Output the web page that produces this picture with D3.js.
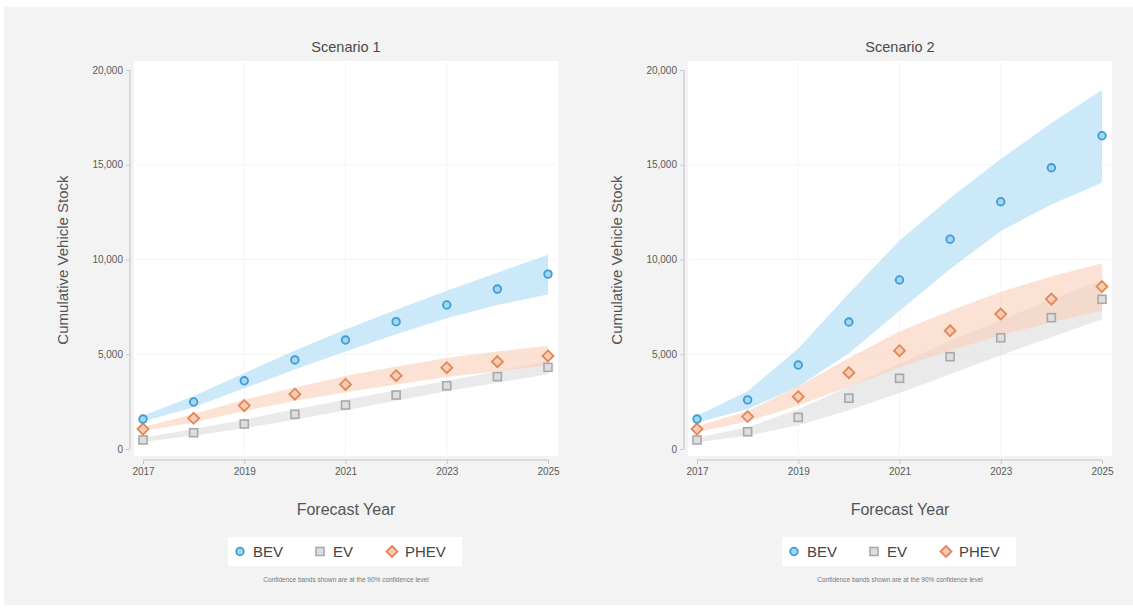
<!DOCTYPE html>
<html>
<head>
<meta charset="utf-8">
<script src="https://cdn.jsdelivr.net/npm/d3@7"></script>
<style>
  body { margin: 0; background: #fff; font-family: "Liberation Sans", Arial, sans-serif; }
  .tick text { fill: #5a5a5a; }
</style>
</head>
<body>
<div id="chart"></div>
<script>
// forecast years
const years = [2017, 2018, 2019, 2020, 2021, 2022, 2023, 2024, 2025];
const yTicks = [0, 5000, 10000, 15000, 20000];
const xTicks = [2017, 2019, 2021, 2023, 2025];
const seriesNames = ["BEV", "EV", "PHEV"];

// Scenario 1
const s1Bev = [1580, 2480, 3600, 4700, 5750, 6720, 7600, 8440, 9230];
const s1BevHi = [1750, 2800, 4000, 5200, 6300, 7350, 8350, 9300, 10250];
const s1BevLo = [1450, 2200, 3200, 4200, 5150, 6050, 6900, 7600, 8150];
const s1Ev = [475, 860, 1320, 1830, 2320, 2850, 3340, 3820, 4310];
const s1EvHi = [600, 1050, 1550, 2100, 2600, 3100, 3600, 4100, 4650];
const s1EvLo = [380, 700, 1100, 1550, 2050, 2550, 3050, 3500, 3950];
const s1Phev = [1050, 1620, 2290, 2890, 3410, 3870, 4290, 4610, 4910];
const s1PhevHi = [1150, 1850, 2600, 3250, 3850, 4350, 4800, 5150, 5450];
const s1PhevLo = [950, 1400, 2000, 2550, 3000, 3400, 3800, 4100, 4400];

// Scenario 2
const s2Bev = [1580, 2590, 4430, 6700, 8920, 11070, 13050, 14840, 16530];
const s2BevHi = [1750, 3050, 5300, 8200, 11000, 13250, 15300, 17200, 18950];
const s2BevLo = [1400, 2100, 3300, 5050, 7300, 9500, 11500, 12900, 14050];
const s2Ev = [475, 910, 1670, 2680, 3730, 4870, 5870, 6930, 7900];
const s2EvHi = [600, 1150, 2100, 3300, 4500, 5700, 6800, 7900, 8900];
const s2EvLo = [350, 700, 1250, 2050, 2950, 3950, 4950, 5900, 6850];
const s2Phev = [1050, 1710, 2760, 4030, 5190, 6240, 7120, 7910, 8570];
const s2PhevHi = [1200, 2000, 3300, 4800, 6200, 7300, 8300, 9100, 9800];
const s2PhevLo = [900, 1450, 2300, 3300, 4300, 5200, 6000, 6700, 7300];

const colors = {
    BEV: {line: "#3d9dd3", band: "#b9e1f5", fill: "#a3d6f2"},
    EV: {line: "#a8a8a8", band: "#dcdcdc", fill: "#dedede"},
    PHEV: {line: "#e3875a", band: "#f9cfb8", fill: "#f7cdb4"}
};

const svg = d3.select("#chart").append("svg")
    .attr("width", 1133)
    .attr("height", 611);

// graph background
svg.append("rect")
    .attr("x", 4).attr("y", 7)
    .attr("width", 1129).attr("height", 598)
    .attr("fill", "#f3f3f3");

function drawPanel(left, title, data) {
    // left = x of the y axis line
    let p = {};
    p.x0 = left + 13;
    p.x1 = left + 418;
    p.g = svg.append("g");

    p.x = d3.scaleLinear().domain([2017, 2025]).range([p.x0, p.x1]);
    p.y = d3.scaleLinear().domain([0, 20000]).range([449, 70]);

    // plot region
    p.g.append("rect")
        .attr("x", left + 4).attr("y", 61)
        .attr("width", 424).attr("height", 395)
        .attr("fill", "#fff");

    // grid
    p.g.selectAll(".gx")
        .data([2019, 2021, 2023])
        .enter().append("line")
        .attr("x1", d => p.x(d)).attr("x2", d => p.x(d))
        .attr("y1", 63).attr("y2", 455)
        .attr("stroke", "#f4f4f4");
    p.g.selectAll(".gy")
        .data([5000, 10000, 15000])
        .enter().append("line")
        .attr("x1", left + 6).attr("x2", left + 426)
        .attr("y1", d => p.y(d)).attr("y2", d => p.y(d))
        .attr("stroke", "#f4f4f4");

    // y axis
    let yAxis = d3.axisLeft(p.y).tickValues(yTicks).tickSize(4).tickPadding(3)
        .tickFormat(d3.format(","));
    let ya = p.g.append("g").attr("transform", `translate(${left},0)`).call(yAxis);
    ya.select(".domain").attr("stroke", "#cacaca").attr("stroke-width", 1.3)
        .attr("d", `M0,${p.y(0)}V${p.y(20000)}`);
    ya.selectAll(".tick line").attr("stroke", "#cacaca");
    ya.selectAll(".tick text").attr("font-size", 10).attr("font-family", "Liberation Sans, Arial");

    // x axis
    let xAxis = d3.axisBottom(p.x).tickValues(xTicks).tickSize(4).tickPadding(4)
        .tickFormat(d3.format("d"));
    let xa = p.g.append("g").attr("transform", "translate(0,460)").call(xAxis);
    xa.select(".domain").attr("stroke", "#c4c4c4").attr("d", `M${p.x0},0H${p.x1}`);
    xa.selectAll(".tick line").attr("stroke", "#c4c4c4");
    xa.selectAll(".tick text").attr("font-size", 10).attr("font-family", "Liberation Sans, Arial");

    // bands
    let area = d3.area()
        .x(d => p.x(d.year))
        .y0(d => p.y(d.lo))
        .y1(d => p.y(d.hi));

    ["BEV", "EV", "PHEV"].forEach(name => {
        let s = data[name];
        let rows = years.map((yr, i) => ({year: yr, lo: s.lo[i], hi: s.hi[i]}));
        p.g.append("path")
            .datum(rows)
            .attr("d", area)
            .attr("fill", colors[name].band)
            .attr("fill-opacity", name === "BEV" ? 0.75 : 0.6);
    });

    // markers
    ["EV", "PHEV", "BEV"].forEach(name => {
        let s = data[name];
        let pts = years.map((yr, i) => ({year: yr, v: s.v[i]}));
        drawMarkers(p.g, pts, name, d => p.x(d.year), d => p.y(d.v));
    });

    // titles
    let cx = left + 216;
    svg.append("text")
        .attr("x", cx).attr("y", 52)
        .attr("text-anchor", "middle")
        .attr("font-size", 14.5)
        .attr("fill", "#4a4a4a")
        .text(title);

    svg.append("text")
        .attr("transform", `translate(${left - 62},260) rotate(-90)`)
        .attr("text-anchor", "middle")
        .attr("font-size", 15)
        .attr("fill", "#555")
        .text("Cumulative Vehicle Stock");

    svg.append("text")
        .attr("x", cx).attr("y", 515)
        .attr("text-anchor", "middle")
        .attr("font-size", 16)
        .attr("fill", "#555")
        .text("Forecast Year");

    // legend
    let lg = svg.append("g").attr("transform", `translate(${cx - 118},537)`);
    lg.append("rect")
        .attr("width", 234).attr("height", 29)
        .attr("fill", "#fff");
    let offsets = [12, 92, 164];
    seriesNames.forEach((name, i) => {
        drawMarkers(lg, [{}], name, () => offsets[i], () => 14.5);
        lg.append("text")
            .attr("x", offsets[i] + 13).attr("y", 20)
            .attr("font-size", 15)
            .attr("fill", "#444")
            .text(name);
    });

    svg.append("text")
        .attr("x", cx).attr("y", 582)
        .attr("text-anchor", "middle")
        .attr("font-size", 6.5)
        .attr("fill", "#777")
        .text("Confidence bands shown are at the 90% confidence level");
}

function drawMarkers(g, pts, name, fx, fy) {
    let c = colors[name].line;
    let f = colors[name].fill;
    if (name === "BEV") {
        g.selectAll(null).data(pts).enter().append("circle")
            .attr("cx", fx).attr("cy", fy).attr("r", 3.8)
            .attr("fill", f).attr("stroke", c).attr("stroke-width", 1.8);
    } else if (name === "EV") {
        g.selectAll(null).data(pts).enter().append("rect")
            .attr("x", d => fx(d) - 4).attr("y", d => fy(d) - 4)
            .attr("width", 8).attr("height", 8)
            .attr("fill", f).attr("stroke", c).attr("stroke-width", 1.6);
    } else {
        g.selectAll(null).data(pts).enter().append("path")
            .attr("d", d => `M${fx(d)},${fy(d) - 5.5}L${fx(d) + 5.5},${fy(d)}L${fx(d)},${fy(d) + 5.5}L${fx(d) - 5.5},${fy(d)}Z`)
            .attr("fill", f).attr("stroke", c).attr("stroke-width", 1.8);
    }
}

drawPanel(130, "Scenario 1", {
    BEV: {v: s1Bev, hi: s1BevHi, lo: s1BevLo},
    EV: {v: s1Ev, hi: s1EvHi, lo: s1EvLo},
    PHEV: {v: s1Phev, hi: s1PhevHi, lo: s1PhevLo}
});

drawPanel(684, "Scenario 2", {
    BEV: {v: s2Bev, hi: s2BevHi, lo: s2BevLo},
    EV: {v: s2Ev, hi: s2EvHi, lo: s2EvLo},
    PHEV: {v: s2Phev, hi: s2PhevHi, lo: s2PhevLo}
});
</script>
</body>
</html>
